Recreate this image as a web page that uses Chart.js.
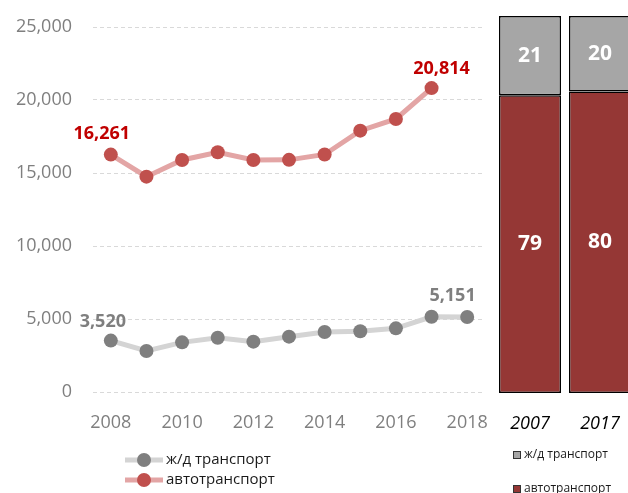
<!DOCTYPE html>
<html><head><meta charset="utf-8">
<script src="https://cdn.jsdelivr.net/npm/chart.js@4/dist/chart.umd.min.js"></script>
<style>
html,body{margin:0;padding:0;background:#fff;overflow:hidden;width:628px;height:493px;position:relative}
#w1{position:absolute;left:0;top:0;width:505px;height:493px}
#w2{position:absolute;left:490px;top:0;width:150px;height:493px}
</style></head><body>
<div id="w1"><canvas id="c1"></canvas></div>
<div id="w2"><canvas id="c2"></canvas></div>
<script>
// ---- data ----
const years = ['2008','2009','2010','2011','2012','2013','2014','2015','2016','2017','2018'];
const railValues = [3520, 2810, 3400, 3720, 3450, 3790, 4110, 4160, 4360, 5151, 5140];
const roadValues = [16261, 14750, 15890, 16420, 15890, 15900, 16270, 17900, 18700, 20814, null];
const seriesNames = ['ж/д транспорт', 'автотранспорт'];
const shareYears = ['2007', '2017'];
const railShare = [21, 20];
const roadShare = [79, 80];

const FONT = "'Open Sans', 'Noto Sans', sans-serif";
Chart.defaults.font.family = FONT;

// value annotations on the line chart
const annotations = [
  {ds: 1, idx: 0, color: '#c00000', dx: -9, dy: -21},
  {ds: 1, idx: 9, color: '#c00000', dx: 10, dy: -19},
  {ds: 0, idx: 0, color: '#7f7f7f', dx: -8, dy: -19},
  {ds: 0, idx: 9, color: '#7f7f7f', dx: 21, dy: -21}
];

const lineLabels = {
  id: 'lineLabels',
  afterDatasetsDraw(chart) {
    const ctx = chart.ctx;
    ctx.save();
    ctx.font = "bold 18px " + FONT;
    ctx.textAlign = 'center';
    ctx.textBaseline = 'middle';
    annotations.forEach(a => {
      const el = chart.getDatasetMeta(a.ds).data[a.idx];
      const v = chart.data.datasets[a.ds].data[a.idx];
      ctx.fillStyle = a.color;
      ctx.fillText(v.toLocaleString('en-US'), el.x + a.dx, el.y + a.dy);
    });
    ctx.restore();
  },
  afterDraw(chart) {
    const ctx = chart.ctx;
    ctx.save();
    chart.data.datasets.forEach((ds, i) => {
      const y = 460 + i * 20;
      ctx.strokeStyle = ds.borderColor;
      ctx.lineWidth = 5;
      ctx.beginPath(); ctx.moveTo(125, y); ctx.lineTo(163, y); ctx.stroke();
      ctx.fillStyle = ds.pointBackgroundColor;
      ctx.beginPath(); ctx.arc(144, y, 7, 0, Math.PI * 2); ctx.fill();
      ctx.fillStyle = '#1a1a1a';
      ctx.font = "15px " + FONT;
      ctx.textAlign = 'left';
      ctx.textBaseline = 'middle';
      ctx.fillText(ds.label, 166, y);
    });
    ctx.restore();
  }
};

new Chart(document.getElementById('c1'), {
  type: 'line',
  data: {
    labels: years,
    datasets: [
      {label: seriesNames[0], data: railValues, borderColor: '#d4d4d4', borderWidth: 5,
       pointRadius: 7, pointHoverRadius: 7, pointBackgroundColor: '#7f7f7f', pointBorderWidth: 0, tension: 0},
      {label: seriesNames[1], data: roadValues, borderColor: '#e3a5a5', borderWidth: 5,
       pointRadius: 7, pointHoverRadius: 7, pointBackgroundColor: '#c0504d', pointBorderWidth: 0, tension: 0}
    ]
  },
  options: {
    responsive: true, maintainAspectRatio: false, animation: false, devicePixelRatio: 1,
    layout: {padding: {top: 27, right: 20, bottom: 60, left: 0}},
    plugins: {legend: {display: false}, tooltip: {enabled: false}},
    scales: {
      x: {
        offset: true,
        grid: {display: false},
        border: {display: false},
        ticks: {color: '#7f7f7f', font: {size: 18}, padding: 12, maxRotation: 0, autoSkip: false,
          callback: (v, i) => (i % 2 === 0 ? years[i] : '')},
        afterFit: s => { s.height = 41; }
      },
      y: {
        min: 0, max: 25000,
        grid: {color: '#d9d9d9', lineWidth: 1, drawTicks: false},
        border: {display: false, dash: [4, 3]},
        ticks: {stepSize: 5000, color: '#7f7f7f', font: {size: 18}, padding: 21,
          callback: v => v.toLocaleString('en-US')},
        afterFit: s => { s.width = 93; s.paddingTop = 0; s.paddingBottom = 0; }
      }
    }
  },
  plugins: [lineLabels]
});

const barLabels = {
  id: 'barLabels',
  afterDatasetsDraw(chart) {
    const ctx = chart.ctx;
    ctx.save();
    ctx.font = "bold 21px " + FONT;
    ctx.fillStyle = '#ffffff';
    ctx.textAlign = 'center';
    ctx.textBaseline = 'middle';
    chart.data.datasets.forEach((ds, di) => {
      chart.getDatasetMeta(di).data.forEach((el, i) => {
        ctx.fillText(String(ds.data[i]), el.x, (el.y + el.base) / 2);
      });
    });
    ctx.restore();
  },
  afterDraw(chart) {
    const ctx = chart.ctx;
    ctx.save();
    const items = [chart.data.datasets[1], chart.data.datasets[0]];
    items.forEach((ds, i) => {
      const y = 455 + i * 34;
      ctx.fillStyle = ds.backgroundColor;
      ctx.fillRect(23, y - 4, 8, 8);
      ctx.strokeStyle = '#333';
      ctx.lineWidth = 1;
      ctx.strokeRect(23.5, y - 3.5, 7, 7);
      ctx.fillStyle = '#1a1a1a';
      ctx.font = "12px " + FONT;
      ctx.textAlign = 'left';
      ctx.textBaseline = 'middle';
      ctx.fillText(ds.label, 34, y);
    });
    ctx.restore();
  }
};

new Chart(document.getElementById('c2'), {
  type: 'bar',
  data: {
    labels: shareYears,
    datasets: [
      {label: seriesNames[1], data: roadShare, backgroundColor: '#953735', borderColor: '#000', borderWidth: 1.5, borderSkipped: false},
      {label: seriesNames[0], data: railShare, backgroundColor: '#a6a6a6', borderColor: '#000', borderWidth: 1.5, borderSkipped: false}
    ]
  },
  options: {
    responsive: true, maintainAspectRatio: false, animation: false, devicePixelRatio: 1,
    layout: {padding: {top: 16, right: 5, bottom: 60, left: 5}},
    categoryPercentage: 1, barPercentage: 0.886,
    plugins: {legend: {display: false}, tooltip: {enabled: false}},
    scales: {
      x: {
        stacked: true, offset: true,
        grid: {display: false}, border: {display: false},
        ticks: {color: '#000', font: {size: 18, style: 'italic'}, padding: 12, maxRotation: 0},
        afterFit: s => { s.height = 40; }
      },
      y: {stacked: true, min: 0, max: 100, display: false}
    }
  },
  plugins: [barLabels]
});
</script>
</body></html>
